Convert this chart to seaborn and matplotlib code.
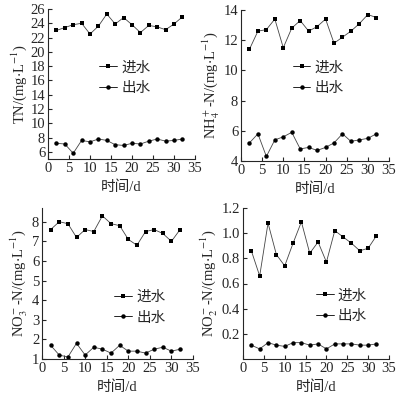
import numpy as np
import pandas as pd
import seaborn as sns
import matplotlib.pyplot as plt

days = list(range(2, 33, 2))

tn_in = [23.0, 23.4, 23.8, 24.0, 22.5, 23.6, 25.3, 23.9, 24.8, 23.8, 22.7, 23.7, 23.5, 23.1, 23.9, 24.9]
tn_out = [7.2, 7.1, 5.8, 7.6, 7.4, 7.8, 7.6, 7.0, 6.9, 7.2, 7.1, 7.5, 7.8, 7.5, 7.6, 7.8]
nh4_in = [11.4, 12.6, 12.7, 13.4, 11.5, 12.8, 13.3, 12.6, 12.9, 13.4, 11.8, 12.2, 12.6, 13.1, 13.7, 13.5]
nh4_out = [5.2, 5.8, 4.3, 5.4, 5.6, 5.9, 4.8, 4.9, 4.7, 4.9, 5.2, 5.8, 5.3, 5.4, 5.5, 5.8]
no3_in = [7.6, 8.0, 7.9, 7.2, 7.6, 7.5, 8.3, 7.9, 7.8, 7.1, 6.8, 7.5, 7.6, 7.4, 7.0, 7.6]
no3_out = [1.7, 1.2, 1.1, 1.8, 1.2, 1.6, 1.5, 1.3, 1.7, 1.4, 1.4, 1.3, 1.5, 1.6, 1.4, 1.5]
no2_in = [0.86, 0.66, 1.08, 0.83, 0.74, 0.92, 1.09, 0.84, 0.93, 0.77, 1.02, 0.97, 0.92, 0.86, 0.88, 0.98]
no2_out = [0.11, 0.08, 0.13, 0.11, 0.10, 0.13, 0.13, 0.11, 0.12, 0.08, 0.12, 0.12, 0.12, 0.11, 0.11, 0.12]

sns.set_style("ticks")
plt.rcParams['font.family'] = ['Liberation Serif', 'Noto Sans CJK SC']
plt.rcParams['mathtext.fontset'] = 'stix'
plt.rcParams['xtick.direction'] = 'in'
plt.rcParams['ytick.direction'] = 'in'

fig = plt.figure(figsize=(4.04, 3.95), dpi=100)
W, H = 404, 395
fs = 10.5

def add_ax(x0, x1, ytop, ybot):
    return fig.add_axes([x0 / W, 1 - ybot / H, (x1 - x0) / W, (ybot - ytop) / H])

panels = [
    (add_ax(48, 195, 9, 159), tn_in, tn_out, (5, 26), np.arange(6, 27, 2),
     r'TN/(mg$\cdot$L$^{-1}$)', (0.35, 0.54)),
    (add_ax(241, 389, 10, 161), nh4_in, nh4_out, (4, 14), np.arange(4, 15, 2),
     r'NH$_4^+$-N/(mg$\cdot$L$^{-1}$)', (0.35, 0.55)),
    (add_ax(42, 193, 208, 359), no3_in, no3_out, (1, 8.7), np.arange(1, 9, 1),
     r'NO$_3^-$-N/(mg$\cdot$L$^{-1}$)', (0.48, 0.34)),
    (add_ax(243, 389, 208, 359), no2_in, no2_out, (0, 1.2), np.round(np.arange(0.2, 1.21, 0.2), 1),
     r'NO$_2^-$-N/(mg$\cdot$L$^{-1}$)', (0.5, 0.35)),
]

for ax, yin, yout, ylim, yticks, ylabel, legpos in panels:
    df = pd.DataFrame({'day': days * 2, 'value': yin + yout,
                       'kind': ['进水'] * len(days) + ['出水'] * len(days)})
    sns.lineplot(data=df, x='day', y='value', hue='kind', style='kind',
                 palette=['black', 'black'], markers=['s', 'o'], dashes=False,
                 markersize=3.2, linewidth=0.6, markeredgewidth=0, ax=ax)
    for line in ax.lines:
        line.set_color('#444444')
        line.set_markerfacecolor('black')
    ax.set_xlim(0, 35)
    ax.set_xticks(range(0, 36, 5))
    ax.set_ylim(*ylim)
    ax.set_yticks(yticks)
    ax.set_xlabel('时间/d', fontsize=fs, labelpad=4)
    ax.set_ylabel(ylabel, fontsize=fs, labelpad=1)
    ax.tick_params(labelsize=fs, length=3, width=0.8, pad=2)
    sns.despine(ax=ax)
    for sp in ax.spines.values():
        sp.set_linewidth(0.8)
    leg = ax.legend(loc='center left', bbox_to_anchor=legpos, frameon=False,
                    fontsize=fs, handlelength=1.2, handletextpad=0.3, labelspacing=0.5,
                    borderpad=0, borderaxespad=0)
    for h in leg.legend_handles:
        h.set_color('black')

fig.savefig('out.png', dpi=100)
